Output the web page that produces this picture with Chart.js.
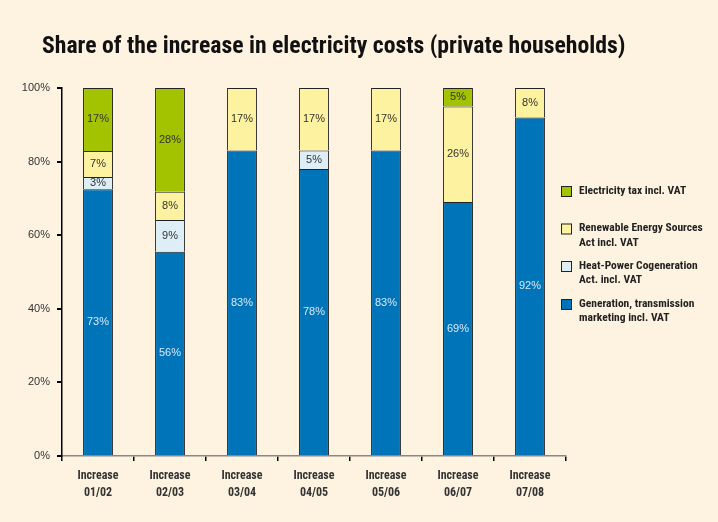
<!DOCTYPE html>
<html>
<head>
<meta charset="utf-8">
<script src="https://cdn.jsdelivr.net/npm/chart.js@4.4.1/dist/chart.umd.min.js"></script>
<style>
  html, body { margin: 0; padding: 0; background: #fef3e1; }
  #wrap { position: relative; width: 718px; height: 522px; background: #fef3e1; }
  #title { position: absolute; left: 42px; top: 31px; font: bold 23.7px 'Roboto Condensed', 'DejaVu Sans Condensed', sans-serif; color: #111; white-space: nowrap; }
  canvas { position: absolute; left: 0; top: 0; }
</style>
</head>
<body>
<div id="wrap">
  <canvas id="chart1" width="718" height="522"></canvas>
  <div id="title">Share of the increase in electricity costs (private households)</div>
</div>
<script>
var categories = [['Increase', '01/02'], ['Increase', '02/03'], ['Increase', '03/04'], ['Increase', '04/05'], ['Increase', '05/06'], ['Increase', '06/07'], ['Increase', '07/08']];
var generation = [72.5, 55.5, 83, 78, 83, 69, 92];
var cogeneration = [3.3, 8.6, null, 5, null, null, null];
var renewable = [7.1, 7.7, 17, 17, 17, 26, 8];
var electricityTax = [17.1, 28.2, null, null, null, 5, null];
var yTicks = [0, 20, 40, 60, 80, 100];

var genLabel = ['Generation, transmission', 'marketing incl. VAT'];
var chpLabel = ['Heat-Power Cogeneration', 'Act. incl. VAT'];
var resLabel = ['Renewable Energy Sources', 'Act incl. VAT'];
var taxLabel = ['Electricity tax incl. VAT'];

var condensed = "'Roboto Condensed', 'DejaVu Sans Condensed', sans-serif";

// etiquetas dentro de las barras
var barLabels = {
  id: 'barLabels',
  afterDatasetsDraw: function (chart) {
    var ctx = chart.ctx;
    ctx.save();
    ctx.font = '11px "Liberation Sans", Arial, sans-serif';
    ctx.textAlign = 'center';
    ctx.textBaseline = 'middle';
    chart.data.datasets.forEach(function (ds, i) {
      chart.getDatasetMeta(i).data.forEach(function (bar, j) {
        var v = ds.data[j];
        if (v == null) return;
        ctx.fillStyle = i == 0 ? '#d8e8f6' : '#333';
        ctx.fillText(Math.round(v) + '%', bar.x, (bar.y + bar.base) / 2);
      });
    });
    ctx.restore();
  }
};

// leyenda a la derecha, en orden inverso
var sideLegend = {
  id: 'sideLegend',
  afterDraw: function (chart) {
    var ctx = chart.ctx;
    var rows = [191, 228.5, 266, 304];
    ctx.save();
    ctx.font = 'bold 11.5px ' + condensed;
    ctx.textBaseline = 'middle';
    ctx.textAlign = 'left';
    var order = [3, 2, 1, 0];
    order.forEach(function (di, k) {
      var ds = chart.data.datasets[di];
      var y = rows[k];
      ctx.fillStyle = ds.backgroundColor;
      ctx.fillRect(561, y - 5, 10, 10);
      ctx.strokeStyle = '#222';
      ctx.lineWidth = 1;
      ctx.strokeRect(561.5, y - 4.5, 10, 10);
      ctx.fillStyle = '#222';
      ds.lines.forEach(function (t, n) {
        ctx.fillText(t, 579, y + n * 14.5);
      });
    });
    ctx.restore();
  }
};

new Chart(document.getElementById('chart1'), {
  type: 'bar',
  data: {
    labels: categories,
    datasets: [{
      label: genLabel.join(' '),
      lines: genLabel,
      data: generation,
      backgroundColor: '#0074b8',
      borderColor: '#222',
      borderWidth: 1
    }, {
      label: chpLabel.join(' '),
      lines: chpLabel,
      data: cogeneration,
      backgroundColor: '#ddeef7',
      borderColor: '#222',
      borderWidth: 1
    }, {
      label: resLabel.join(' '),
      lines: resLabel,
      data: renewable,
      backgroundColor: '#fdf29f',
      borderColor: '#222',
      borderWidth: 1
    }, {
      label: taxLabel.join(' '),
      lines: taxLabel,
      data: electricityTax,
      backgroundColor: '#a3c300',
      borderColor: '#222',
      borderWidth: 1
    }]
  },
  options: {
    responsive: false,
    animation: false,
    devicePixelRatio: 1,
    categoryPercentage: 1,
    barPercentage: 0.415,
    layout: { padding: { left: 20, top: 88, right: 152, bottom: 16 } },
    plugins: {
      legend: { display: false },
      title: { display: false },
      tooltip: { enabled: false }
    },
    scales: {
      x: {
        stacked: true,
        offset: true,
        grid: { drawOnChartArea: false, offset: true, tickLength: 5, color: '#000', lineWidth: 1.5 },
        border: { color: '#888', width: 1.5 },
        ticks: { font: { family: condensed, size: 12, weight: 'bold', lineHeight: 1.4 }, color: '#333', padding: 7 },
        afterFit: function (s) { s.height = 50; }
      },
      y: {
        stacked: true,
        min: 0,
        max: 100,
        afterBuildTicks: function (s) { s.ticks = yTicks.map(function (v) { return { value: v }; }); },
        ticks: {
          callback: function (v) { return v + '%'; },
          font: { family: '"Liberation Sans", Arial, sans-serif', size: 11 },
          color: '#333',
          padding: 7
        },
        grid: { drawOnChartArea: false, tickLength: 5, color: '#000', lineWidth: 2 },
        border: { color: '#000', width: 1.5 },
        afterFit: function (s) { s.width = 42; }
      }
    }
  },
  plugins: [barLabels, sideLegend]
});
</script>
</body>
</html>
